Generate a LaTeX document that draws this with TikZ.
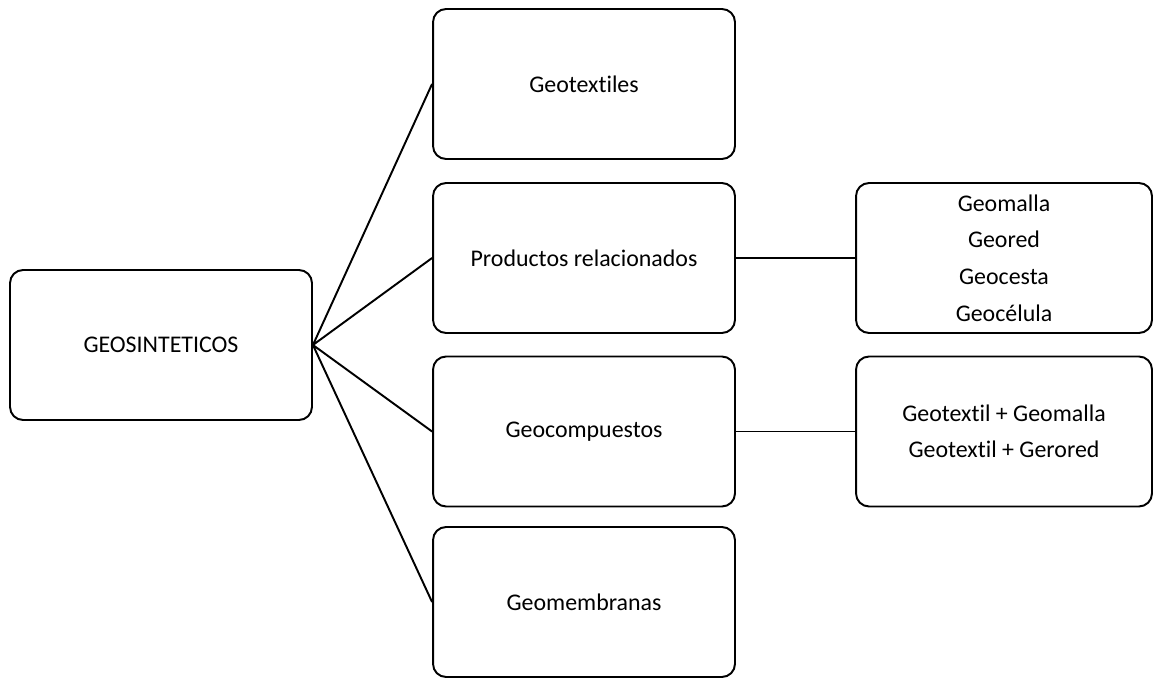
\documentclass[tikz,border=0pt]{standalone}
\usepackage{fontspec}
\setmainfont[Ligatures=NoCommon]{Carlito}
\usepackage{tikz}
\usetikzlibrary{positioning}

\begin{document}
\begin{tikzpicture}[x=0.02cm,y=-0.02cm,
  caja/.style={draw,line width=1.1pt,rounded corners=0.26cm,align=center,
    minimum width=6.04cm,minimum height=3cm,inner sep=0pt,
    font=\fontsize{13.6}{20.8}\selectfont},
  linea/.style={line width=1.1pt}]
\useasboundingbox (0,0) rectangle (1153,678);
\node[caja] (geo) at (161,345) {GEOSINTETICOS};
\node[caja] (gtx) at (584,84) {Geotextiles};
\node[caja] (prod) at (584,258) {Productos relacionados};
\node[caja] (gcomp) at (584,431.5) {Geocompuestos};
\node[caja] (gmem) at (584,602) {Geomembranas};
\node[caja,minimum width=5.92cm] (lista) at (1004,258) {Geomalla\\Geored\\Geocesta\\Geocélula};
\node[caja,minimum width=5.92cm] (mezcla) at (1004,431.5) {Geotextil + Geomalla\\Geotextil + Gerored};
\draw[linea] (geo.east)--(gtx.west) (geo.east)--(prod.west) (geo.east)--(gcomp.west) (geo.east)--(gmem.west);
\draw[linea] (prod.east)--(lista.west) (gcomp.east)--(mezcla.west);
\end{tikzpicture}
\end{document}
